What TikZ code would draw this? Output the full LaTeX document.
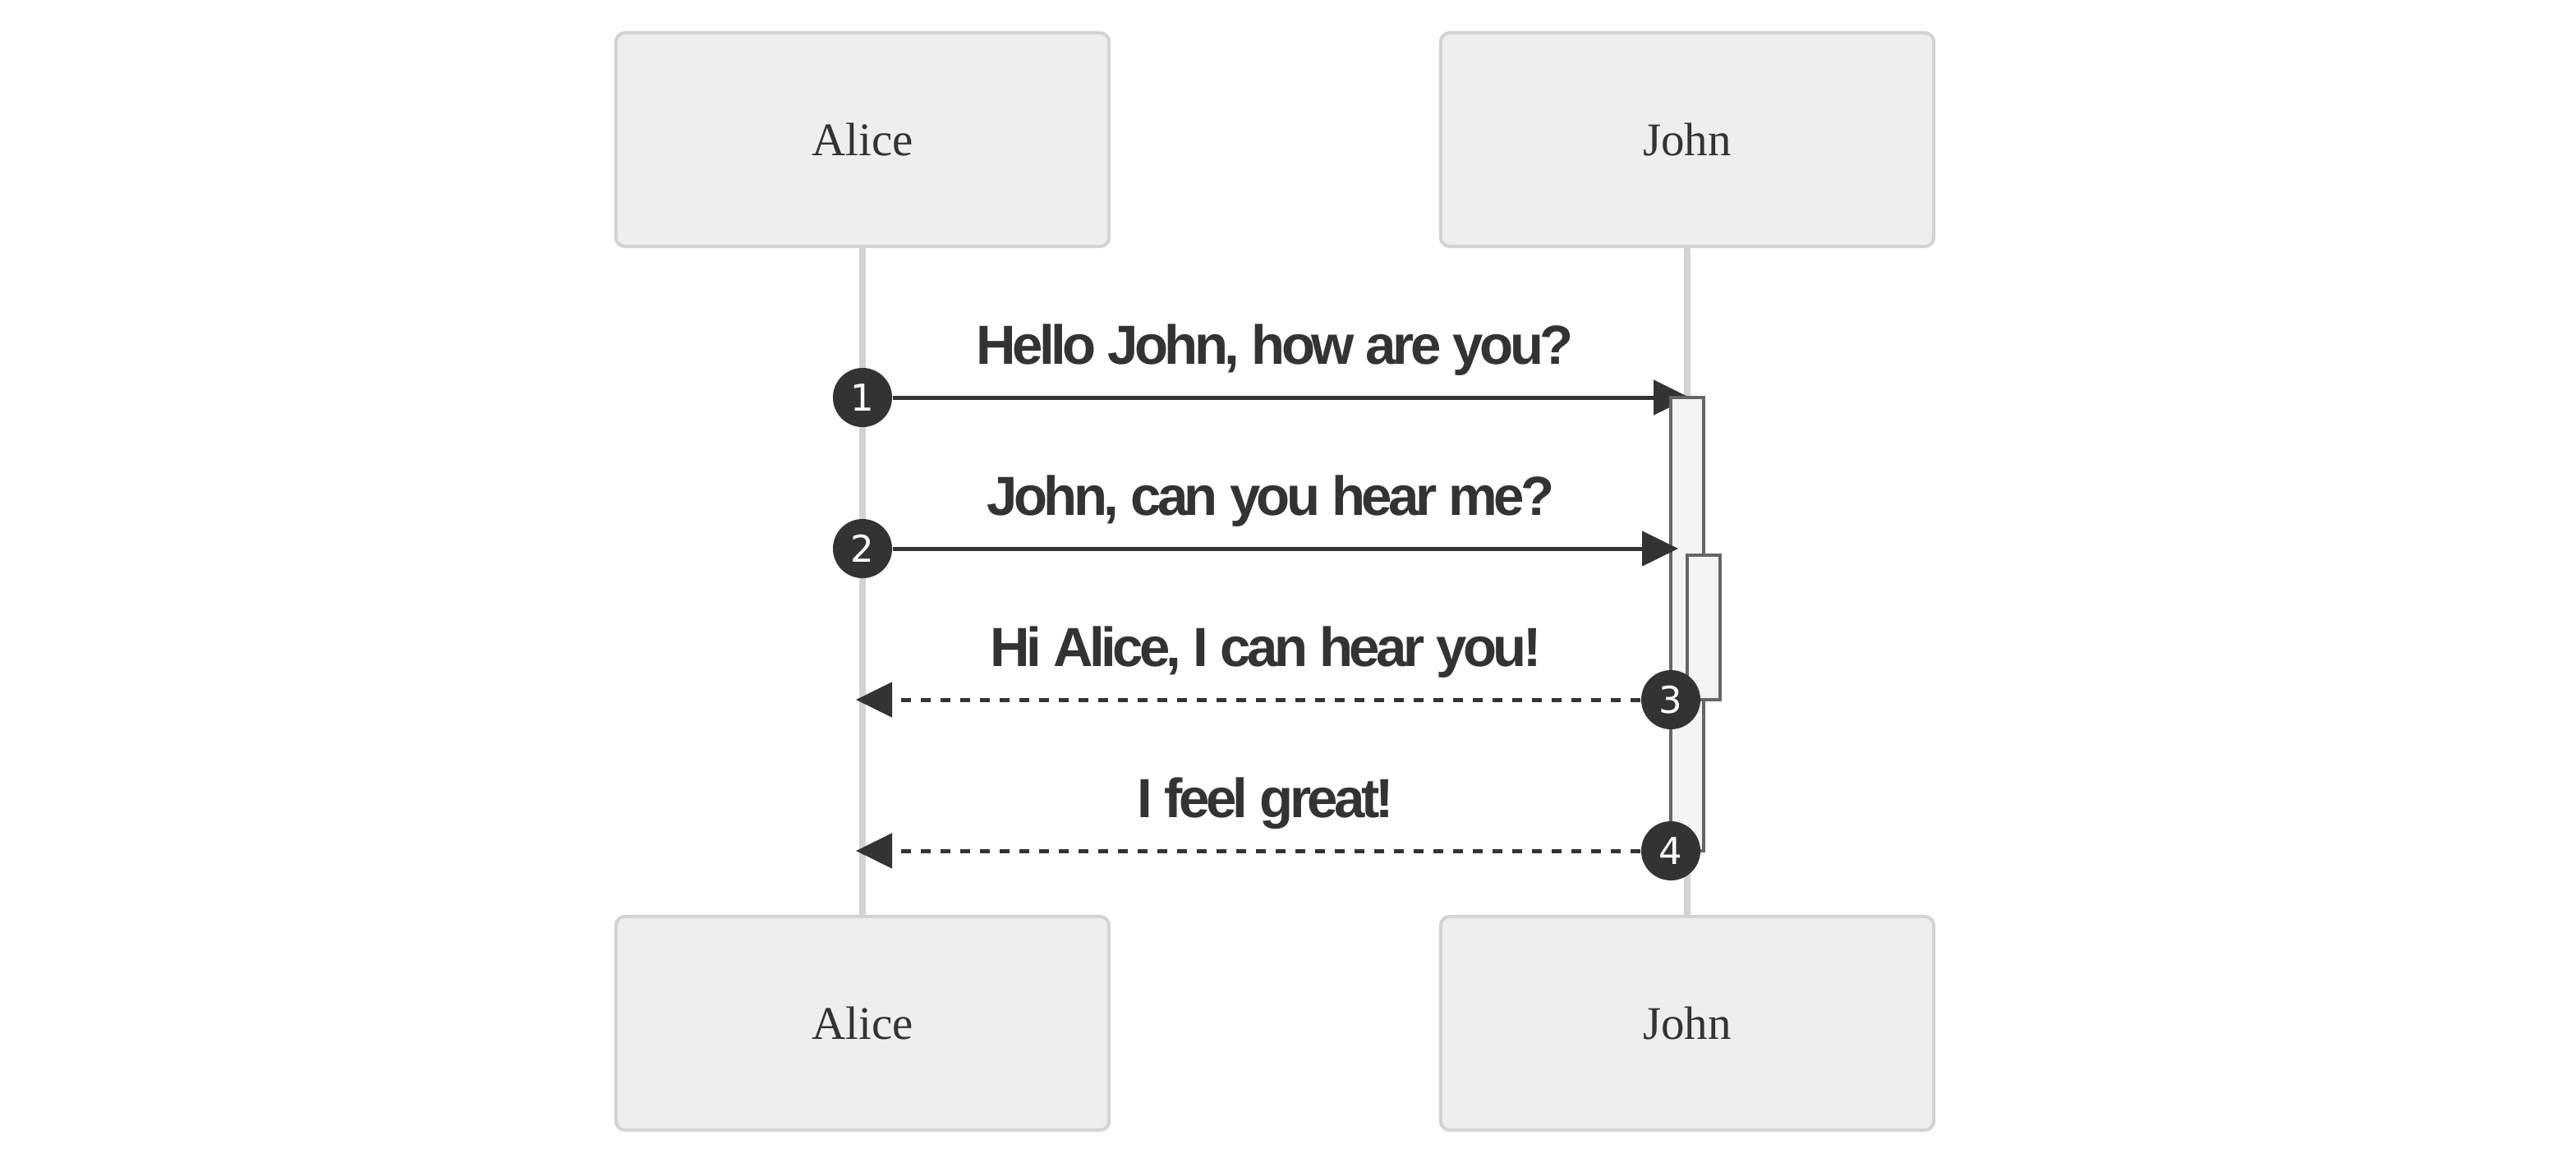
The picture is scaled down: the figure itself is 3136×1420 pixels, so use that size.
\documentclass[tikz,border=0pt]{standalone}
\usepackage{fontspec}
\setmainfont{Liberation Serif}
\newfontfamily\msgfont{Liberation Sans}[LetterSpace=-6.8]
\newfontfamily\numfont{DejaVu Sans}
\usetikzlibrary{arrows.meta}
\definecolor{txt}{HTML}{333333}
\definecolor{actfill}{HTML}{EEEEEE}
\definecolor{actline}{HTML}{D3D3D3}
\definecolor{barfill}{HTML}{F4F4F4}
\definecolor{barline}{HTML}{666666}
\tikzset{
  actor/.style={draw=actline, fill=actfill, line width=0.04cm, rounded corners=0.11cm,
    minimum width=6cm, minimum height=2.6cm, inner sep=0pt, text=txt,
    font=\fontsize{16.2pt}{19pt}\selectfont},
  lifeline/.style={draw=actline, line width=0.075cm},
  seqnum/.style={circle, fill=txt, text=white, minimum size=0.72cm, inner sep=0pt,
    font=\numfont\fontsize{12.8pt}{15pt}\selectfont},
  msg/.style={draw=txt, line width=0.05cm, -{Triangle[length=0.44cm, width=0.42cm]}},
  reply/.style={msg, dash pattern=on 0.12cm off 0.12cm},
  msglabel/.style={text=txt, inner sep=0pt, anchor=base,
    font=\msgfont\bfseries\fontsize{19.1pt}{23pt}\selectfont},
  actbar/.style={draw=barline, fill=barfill, line width=0.035cm}
}
\begin{document}
\begin{tikzpicture}[x=0.01cm, y=-0.01cm]
\useasboundingbox[fill=white] (0,0) rectangle (3136,1420);
% actors
\node[actor] (aliceT) at (1050,170) {Alice};
\node[actor] (johnT) at (2054,170) {John};
\node[actor] (aliceB) at (1050,1246) {Alice};
\node[actor] (johnB) at (2054,1246) {John};
% lifelines
\draw[lifeline] (aliceT) -- (aliceB);
\draw[lifeline] (johnT) -- (johnB);
% coordinates
\coordinate (t1) at (2057,484);
\coordinate (t2) at (2043,668);
\coordinate (t3) at (1042,852);
\coordinate (t4) at (1042,1036);
% message 1
\node[msglabel] (l1) at (1552,443) {Hello John, how are you?};
\node[seqnum] (n1) at (1050,484) {1};
\draw[msg] (n1) -- (t1);
% activation 1
\node[actbar, minimum width=0.4cm, minimum height=5.52cm, inner sep=0pt] (bar1) at (2054,760) {};
% message 2
\node[msglabel] (l2) at (1547,627) {John, can you hear me?};
\node[seqnum] (n2) at (1050,668) {2};
\draw[msg] (n2) -- (t2);
% activation 2
\node[actbar, minimum width=0.4cm, minimum height=1.76cm, inner sep=0pt] (bar2) at (2074,764) {};
% message 3
\node[msglabel] (l3) at (1541,811) {Hi Alice, I can hear you!};
\node[seqnum] (n3) at (2034,852) {3};
\draw[reply] (n3) -- (t3);
% message 4
\node[msglabel] (l4) at (1541,995) {I feel great!};
\node[seqnum] (n4) at (2034,1036) {4};
\draw[reply] (n4) -- (t4);
\end{tikzpicture}
\end{document}
